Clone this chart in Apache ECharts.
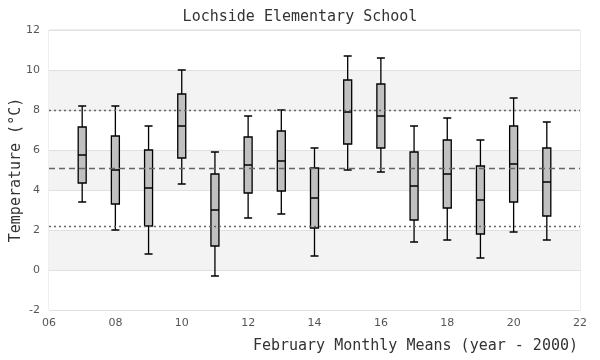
<!DOCTYPE html>
<html><head><meta charset="utf-8">
<script src="https://cdn.jsdelivr.net/npm/echarts@6/dist/echarts.min.js"></script>
<style>html,body{margin:0;padding:0;background:#fff}#c{width:600px;height:360px}</style>
</head><body><div id="c"></div>
<script>
const years = [7, 8, 9, 10, 11, 12, 13, 14, 15, 16, 17, 18, 19, 20, 21];
const whiskerLow = [3.4, 2.0, 0.8, 4.3, -0.3, 2.6, 2.8, 0.7, 5.0, 4.9, 1.4, 1.5, 0.6, 1.9, 1.5];
const q1 = [4.35, 3.3, 2.2, 5.6, 1.2, 3.85, 3.95, 2.1, 6.3, 6.1, 2.5, 3.1, 1.8, 3.4, 2.7];
const medians = [5.75, 5.0, 4.1, 7.2, 3.0, 5.25, 5.45, 3.6, 7.9, 7.7, 4.2, 4.8, 3.5, 5.3, 4.4];
const q3 = [7.15, 6.7, 6.0, 8.8, 4.8, 6.65, 6.95, 5.1, 9.5, 9.3, 5.9, 6.5, 5.2, 7.2, 6.1];
const whiskerHigh = [8.2, 8.2, 7.2, 10.0, 5.9, 7.7, 8.0, 6.1, 10.7, 10.6, 7.2, 7.6, 6.5, 8.6, 7.4];
const dottedRefs = [8.0, 2.2];
const dashedRefs = [5.1];
const yTicks = [-2, 0, 2, 4, 6, 8, 10, 12];

const boxData = years.map((y, i) => [y, whiskerLow[i], q1[i], medians[i], q3[i], whiskerHigh[i]]);
const mono = '"DejaVu Sans Mono", "Liberation Mono", monospace';
const sans = '"DejaVu Sans", Verdana, sans-serif';

const chart = echarts.init(document.getElementById('c'));
chart.setOption({
  animation: false,
  title: {
    text: 'Lochside Elementary School',
    left: 'center', top: 5,
    textStyle: { fontFamily: mono, fontSize: 15, fontWeight: 'normal', color: '#333' }
  },
  grid: { left: 49, right: 20, top: 30, bottom: 50, containLabel: false, outerBoundsMode: 'none',
    show: true, borderColor: '#dcdcdc', borderWidth: 1, backgroundColor: 'transparent' },
  xAxis: {
    type: 'value', min: 6, max: 22, interval: 2,
    axisLine: { show: false }, axisTick: { show: false },
    splitLine: { show: false },
    axisLabel: { fontFamily: sans, fontSize: 11, color: '#555', margin: 8,
      formatter: v => String(v).padStart(2, '0') }
  },
  yAxis: {
    type: 'value', min: yTicks[0], max: yTicks[yTicks.length - 1], interval: 2,
    name: 'Temperature (°C)', nameLocation: 'middle', nameGap: 25, nameMoveOverlap: false,
    nameTextStyle: { fontFamily: mono, fontSize: 15, color: '#333' },
    axisLine: { show: false }, axisTick: { show: false },
    splitLine: { show: true, lineStyle: { color: '#e0e0e0', width: 1 } },
    splitArea: { show: true, areaStyle: { color: ['#ffffff', '#f3f3f3'] } },
    axisLabel: { fontFamily: sans, fontSize: 11, color: '#555', margin: 9 }
  },
  graphic: [{
    type: 'text', right: 22, top: 339,
    style: { text: 'February Monthly Means (year - 2000)', font: '15px ' + mono, fill: '#333' }
  }],
  series: [{
    type: 'boxplot',
    layout: 'horizontal',
    data: boxData,
    boxWidth: [8, 8],
    itemStyle: { color: '#c0c0c0', borderColor: '#000', borderWidth: 1.3 },
    markLine: {
      silent: true, symbol: 'none', label: { show: false },
      data: [
        ...dottedRefs.map(v => ({ yAxis: v, lineStyle: { type: [2, 3], color: '#666', width: 1.3 } })),
        ...dashedRefs.map(v => ({ yAxis: v, lineStyle: { type: [6, 4], color: '#666', width: 1.3 } }))
      ]
    }
  }]
});
</script></body></html>
